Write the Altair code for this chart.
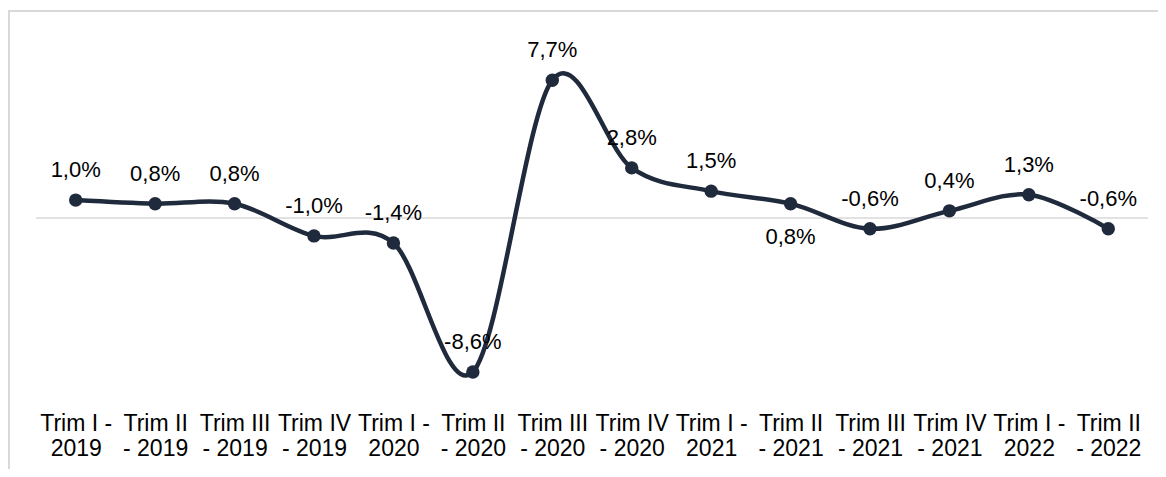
import altair as alt
import pandas as pd

quarters = [
    "Trim I - 2019", "Trim II - 2019", "Trim III - 2019", "Trim IV - 2019",
    "Trim I - 2020", "Trim II - 2020", "Trim III - 2020", "Trim IV - 2020",
    "Trim I - 2021", "Trim II - 2021", "Trim III - 2021", "Trim IV - 2021",
    "Trim I - 2022", "Trim II - 2022",
]
values = [1.0, 0.8, 0.8, -1.0, -1.4, -8.6, 7.7, 2.8, 1.5, 0.8, -0.6, 0.4, 1.3, -0.6]
label_side = ["above"] * 9 + ["below"] + ["above"] * 4

df = pd.DataFrame({"q": quarters, "v": values, "side": label_side})
df["txt"] = df["v"].map(lambda v: f"{v:.1f}%".replace(".", ","))

FONT = "Liberation Sans"
LINE = "#1f2a3c"
GRID = "#d9d9d9"

x_enc = alt.X(
    "q:O",
    sort=quarters,
    title=None,
    scale=alt.Scale(padding=0.5),
    axis=alt.Axis(
        domain=False, ticks=False, labelAngle=0, labelFont=FONT, labelFontSize=23,
        labelColor="#000000", labelPadding=15, labelLineHeight=25, labelLimit=0,
        labelBaseline="top",
        labelExpr="split(datum.label, ' - ')[0] === 'Trim I' ? ['Trim I -', split(datum.label, ' - ')[1]] : [split(datum.label, ' - ')[0], '- ' + split(datum.label, ' - ')[1]]",
    ),
)
y_enc = alt.Y("v:Q", axis=None, scale=alt.Scale(domain=[-10, 10]))

base = alt.Chart(df)

zero = alt.Chart(pd.DataFrame({"z": [0]})).mark_rule(color=GRID, strokeWidth=1.5).encode(
    y=alt.Y("z:Q", scale=alt.Scale(domain=[-10, 10]), axis=None)
)

frame_top = alt.Chart(pd.DataFrame({"a": [0]})).mark_rule(color=GRID, strokeWidth=2).encode(
    x=alt.value(-28), x2=alt.value(1130), y=alt.value(-28)
)
frame_left = alt.Chart(pd.DataFrame({"a": [0]})).mark_rule(color=GRID, strokeWidth=2).encode(
    x=alt.value(-27), y=alt.value(-29), y2=alt.value(440)
)

line = base.mark_line(color=LINE, strokeWidth=4.5, interpolate="cardinal", tension=0).encode(x=x_enc, y=y_enc)
pts = base.mark_circle(color=LINE, size=180, opacity=1).encode(x=x_enc, y=y_enc)

lab_above = base.transform_filter(alt.datum.side == "above").mark_text(
    font=FONT, fontSize=22, color="#000000", dy=-30, baseline="middle"
).encode(x=x_enc, y=y_enc, text="txt:N")
lab_below = base.transform_filter(alt.datum.side == "below").mark_text(
    font=FONT, fontSize=22, color="#000000", dy=33, baseline="middle"
).encode(x=x_enc, y=y_enc, text="txt:N")

chart = alt.layer(frame_top, frame_left, zero, line, pts, lab_above, lab_below).properties(
    width=1112, height=358,
    padding={"left": 28, "top": 31, "right": 10, "bottom": 72},
    autosize="none",
).configure_view(stroke=None)

chart.save("out.html", embed_options={"renderer": "svg", "actions": False})
